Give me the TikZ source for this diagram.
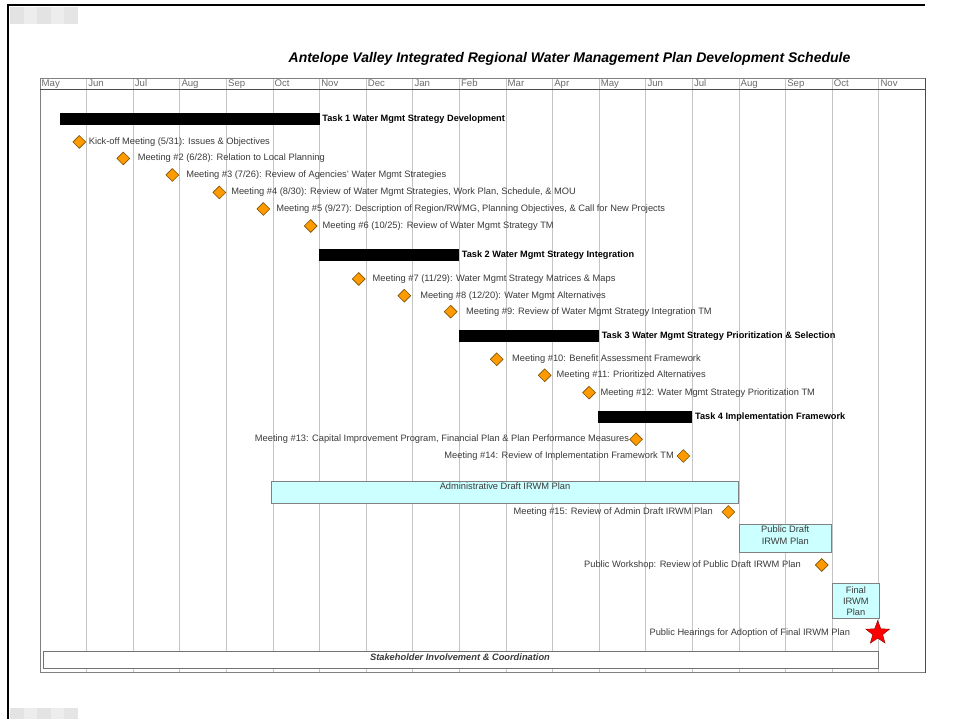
\documentclass[tikz,border=0pt]{standalone}
\usepackage{fontspec}
\setmainfont{Liberation Sans}
\usetikzlibrary{shapes.geometric, positioning}
\definecolor{msorange}{HTML}{FF9A00}
\definecolor{msedge}{HTML}{7A5200}
\definecolor{planfill}{HTML}{CCFFFF}
\definecolor{gridgray}{HTML}{C4C4C4}
\definecolor{textgray}{HTML}{3A3A3A}

\begin{document}
\begin{tikzpicture}[x=1pt,y=-1pt,node distance=6pt,
    meeting/.style={diamond, draw=msedge, fill=msorange, line width=0.6pt,
      inner sep=0pt, minimum width=13pt, minimum height=13pt},
    mlabel/.style={inner sep=0pt, text=textgray, font=\fontsize{9.3}{11}\selectfont},
    taskbar/.style={fill=black, inner sep=0pt, minimum height=12pt, anchor=west},
    tasklabel/.style={inner sep=0pt, font=\bfseries\fontsize{9.2}{11}\selectfont},
    planbox/.style={draw=gray, fill=planfill, line width=0.8pt, inner sep=0pt, anchor=north west},
    plantext/.style={inner sep=0pt, text=textgray, align=center, font=\fontsize{9.3}{12}\selectfont}]
  \useasboundingbox[fill=white] (0,0) rectangle (954,719);

  % scan leftovers and page frame
  \foreach \i/\g in {0/22,1/14,2/22,3/14,4/20}{
    \fill[gray!\g] (10+13.6*\i,7) rectangle (23.6+13.6*\i,24);
    \fill[gray!\g] (10+13.6*\i,708) rectangle (23.6+13.6*\i,719);
  }
  \draw[line width=2pt] (8.3,719) -- (8.3,5) -- (925.3,5);

  % title
  \node[font=\bfseries\itshape\fontsize{14}{16}\selectfont] (title) at (569.5,58.6)
    {Antelope Valley Integrated Regional Water Management Plan Development Schedule};

  % month grid
  \foreach \m [count=\k from 0] in {May,Jun,Jul,Aug,Sep,Oct,Nov,Dec,Jan,Feb,Mar,Apr,May,Jun,Jul,Aug,Sep,Oct,Nov}{
    \draw[gridgray, line width=0.9pt] (40+46.6*\k,78.3) -- (40+46.6*\k,672.7);
    \node[anchor=base west, inner sep=0pt, text=gray!85!black, font=\fontsize{9.6}{11}\selectfont]
      at (41.5+46.6*\k,86.8) {\m};
  }
  \draw[gray, line width=0.9pt] (40,672.7) -- (40,78.3) -- (925.3,78.3);
  \draw[gray!60!black, line width=1.6pt] (40,89.6) -- (925.3,89.6);
  \draw[gray!60!black, line width=1.4pt] (925.3,78.3) -- (925.3,672.7);
  \draw[gray, line width=1pt] (40,672.7) -- (925.3,672.7);

  % task 1
  \node[taskbar, minimum width=260pt] (t1) at (59.3,118.7) {};
  \node[tasklabel, right=2.5pt of t1] {Task 1 Water Mgmt Strategy Development};
  \node[meeting] (m1) at (79.3,142) {};
  \node[mlabel, right=2.5pt of m1] {Kick-off Meeting (5/31): Issues \& Objectives};
  \node[meeting] (m2) at (123.3,158.5) {};
  \node[mlabel, right=7.5pt of m2] {Meeting \#2 (6/28): Relation to Local Planning};
  \node[meeting] (m3) at (172.3,175) {};
  \node[mlabel, right=7pt of m3] {Meeting \#3 (7/26): Review of Agencies' Water Mgmt Strategies};
  \node[meeting] (m4) at (219.3,192.5) {};
  \node[mlabel, right=5pt of m4] {Meeting \#4 (8/30): Review of Water Mgmt Strategies, Work Plan, Schedule, \& MOU};
  \node[meeting] (m5) at (263.3,209) {};
  \node[mlabel, right=6pt of m5] {Meeting \#5 (9/27): Description of Region/RWMG, Planning Objectives, \& Call for New Projects};
  \node[meeting] (m6) at (310.7,226) {};
  \node[mlabel, right=5pt of m6] {Meeting \#6 (10/25): Review of Water Mgmt Strategy TM};

  % task 2
  \node[taskbar, minimum width=139.3pt] (t2) at (319,255.2) {};
  \node[tasklabel, right=3pt of t2] {Task 2 Water Mgmt Strategy Integration};
  \node[meeting] (m7) at (358.7,279) {};
  \node[mlabel, right=7pt of m7] {Meeting \#7 (11/29): Water Mgmt Strategy Matrices \& Maps};
  \node[meeting] (m8) at (404.3,295.7) {};
  \node[mlabel, right=9pt of m8] {Meeting \#8 (12/20): Water Mgmt Alternatives};
  \node[meeting] (m9) at (450.7,311.7) {};
  \node[mlabel, right=8.5pt of m9] {Meeting \#9: Review of Water Mgmt Strategy Integration TM};

  % task 3
  \node[taskbar, minimum width=140.4pt] (t3) at (458.3,336.2) {};
  \node[tasklabel, right=2.5pt of t3] {Task 3 Water Mgmt Strategy Prioritization \& Selection};
  \node[meeting] (m10) at (496.7,359.3) {};
  \node[mlabel, right=8.5pt of m10] {Meeting \#10: Benefit Assessment Framework};
  \node[meeting] (m11) at (544.7,375.3) {};
  \node[mlabel, right=5pt of m11] {Meeting \#11: Prioritized Alternatives};
  \node[meeting] (m12) at (589,392.7) {};
  \node[mlabel, right=4.5pt of m12] {Meeting \#12: Water Mgmt Strategy Prioritization TM};

  % task 4
  \node[taskbar, minimum width=94.7pt] (t4) at (597.3,417.5) {};
  \node[tasklabel, right=2.5pt of t4] {Task 4 Implementation Framework};
  \node[meeting] (m13) at (636,439.3) {};
  \node[mlabel, left=0pt of m13] {Meeting \#13: Capital Improvement Program, Financial Plan \& Plan Performance Measures};
  \node[meeting] (m14) at (683.3,456) {};
  \node[mlabel, left=2.5pt of m14] {Meeting \#14: Review of Implementation Framework TM};

  % plan drafts
  \node[planbox, minimum width=467.3pt, minimum height=22pt] (admin) at (271,480.7) {};
  \node[plantext, below=2pt of admin.north] {Administrative Draft IRWM Plan};
  \node[meeting] (m15) at (728.3,512) {};
  \node[mlabel, left=8.5pt of m15] {Meeting \#15: Review of Admin Draft IRWM Plan};
  \node[planbox, minimum width=91.7pt, minimum height=28.3pt] (pdraft) at (739,524) {};
  \node[plantext, below=1.5pt of pdraft.north] {Public Draft\\IRWM Plan};
  \node[meeting] (mpw) at (821.7,565) {};
  \node[mlabel, left=14pt of mpw] {Public Workshop: Review of Public Draft IRWM Plan};
  \node[planbox, minimum width=47.6pt, minimum height=35.6pt] (final) at (831.7,582.7) {};
  \node[plantext, font=\fontsize{9.3}{11}\selectfont] at (final.center) {Final\\IRWM\\Plan};
  \node[star, star points=5, star point ratio=2.4, draw=red!55!black, fill=red,
    inner sep=0pt, minimum size=25pt] (adopt) at (877.7,633) {};
  \node[mlabel, left=27.5pt of adopt.center] {Public Hearings for Adoption of Final IRWM Plan};

  % stakeholder band
  \node[planbox, fill=white, draw=gray!90!black, minimum width=834.7pt, minimum height=17.3pt] (stake) at (43,651) {};
  \node[inner sep=0pt, text=textgray, font=\bfseries\itshape\fontsize{9.3}{11}\selectfont] at (460,657)
    {Stakeholder Involvement \& Coordination};
\end{tikzpicture}
\end{document}
